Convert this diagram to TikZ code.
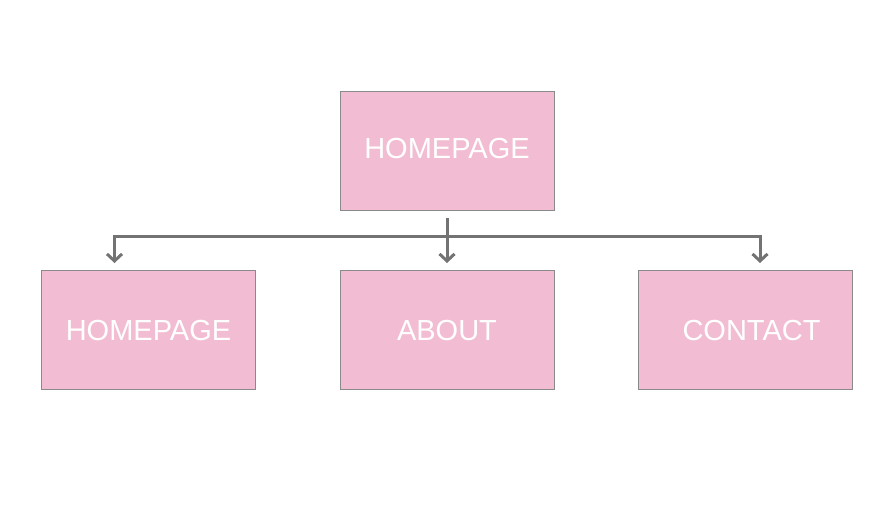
\documentclass[tikz,border=0pt]{standalone}
\usepackage{fontspec}
\setmainfont{Liberation Sans}
\usetikzlibrary{arrows.meta}
\definecolor{boxpink}{HTML}{F2BDD2}
\definecolor{boxedge}{HTML}{8A8A8A}
\definecolor{linegray}{HTML}{737373}
\begin{document}
\begin{tikzpicture}[x=1pt,y=-1pt,
  pagebox/.style={draw=boxedge, line width=0.8pt, fill=boxpink, minimum width=214pt, minimum height=119pt, inner sep=0pt, anchor=north west},
  lbl/.style={text=white, font=\fontsize{29}{31}\selectfont},
  conn/.style={draw=linegray, line width=3pt, line join=miter},
  arr/.style={conn, -{Straight Barb[length=7pt,width=15pt,line width=3pt]}}]
\useasboundingbox (0,0) rectangle (896,525);
\node[pagebox] (top) at (340,91) {};
\node[pagebox] (b1) at (41,270) {};
\node[pagebox] (b2) at (340,270) {};
\node[pagebox] (b3) at (638,270) {};
\node[lbl] (t0) at (447,149) {HOMEPAGE};
\node[lbl] (t1) at (148.5,331) {HOMEPAGE};
\node[lbl] (t2) at (447,331) {ABOUT};
\node[lbl] (t3) at (751.5,331) {CONTACT};
\coordinate (s) at (447,218);
\coordinate (j) at (447,236);
\coordinate (l) at (114.5,236);
\coordinate (r) at (760,236);
\coordinate (e1) at (114.5,263);
\coordinate (e2) at (447,263);
\coordinate (e3) at (760,263);
\draw[arr] (s) -- (e2);
\draw[arr] (j) -- (l) -- (e1);
\draw[arr] (j) -- (r) -- (e3);
\end{tikzpicture}
\end{document}
